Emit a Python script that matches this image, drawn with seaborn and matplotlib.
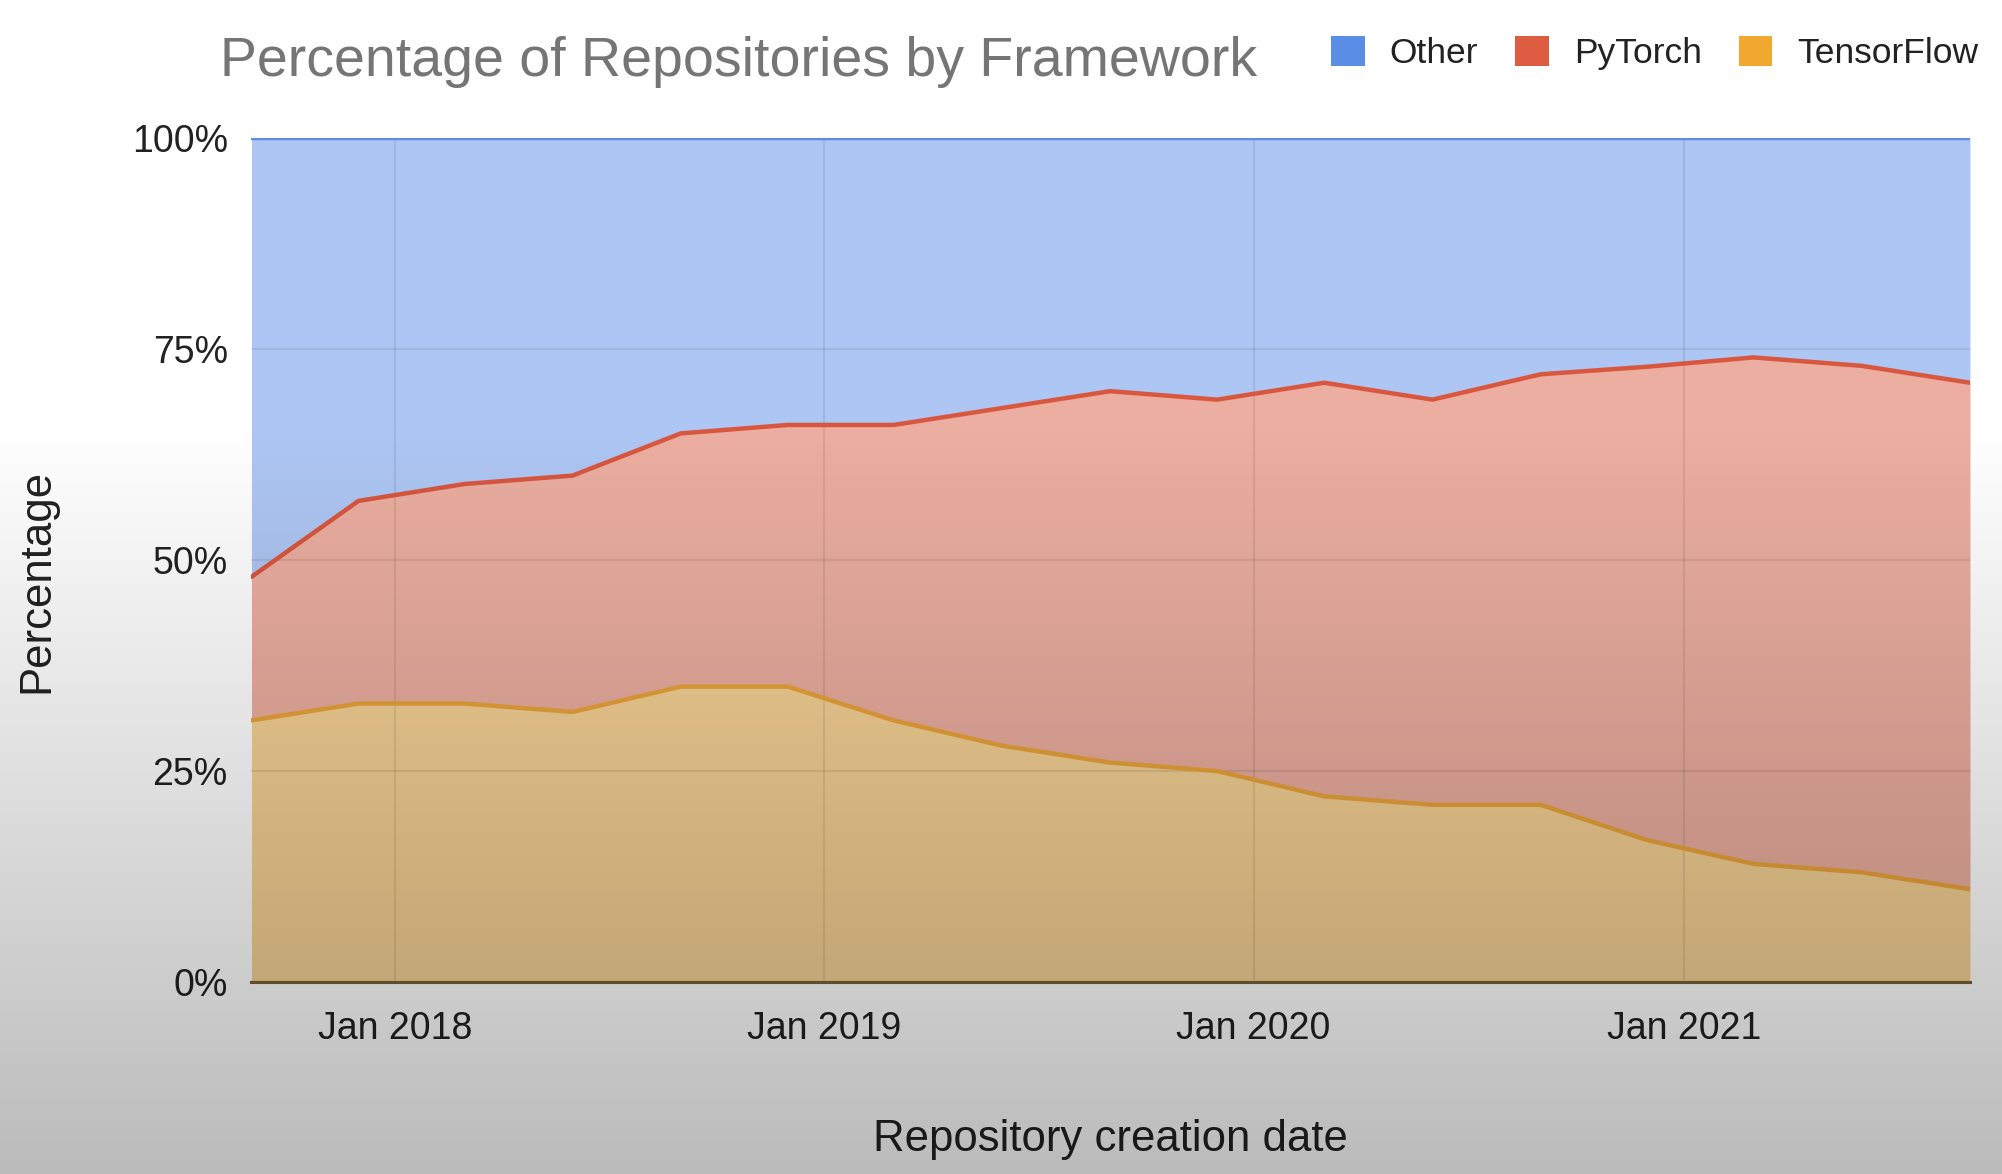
import numpy as np
import pandas as pd
import seaborn as sns
import matplotlib.pyplot as plt
import matplotlib.dates as mdates
from matplotlib.patches import Patch
from matplotlib.ticker import PercentFormatter

# quarterly share of repositories (%)
dates = ['2017-09-01', '2017-12-01', '2018-03-01', '2018-06-01', '2018-09-01',
         '2018-12-01', '2019-03-01', '2019-06-01', '2019-09-01', '2019-12-01',
         '2020-03-01', '2020-06-01', '2020-09-01', '2020-12-01', '2021-03-01',
         '2021-06-01', '2021-09-01']
tensorflow = [31, 33, 33, 32, 35, 35, 31, 28, 26, 25, 22, 21, 21, 16.8, 14, 13, 11]
pytorch = [17, 24, 26, 28, 30, 31, 35, 40, 44, 44, 49, 48, 51, 56.1, 60, 60, 60]
other = [52, 43, 41, 40, 35, 34, 34, 32, 30, 31, 29, 31, 28, 27.1, 26, 27, 29]

frameworks = ['Other', 'PyTorch', 'TensorFlow']
line_colours = {'Other': '#5b8ee6', 'PyTorch': '#d9573f', 'TensorFlow': '#eba43a'}
fill_colours = {'Other': '#aec6f3', 'PyTorch': '#ebaea0', 'TensorFlow': '#f5d194'}
legend_colours = {'Other': '#5a8de6', 'PyTorch': '#dd5c42', 'TensorFlow': '#f0a830'}

sns.set_theme(style='white')
plt.rcParams['font.family'] = ['Liberation Sans', 'DejaVu Sans']

x = pd.to_datetime(dates)
tf_top = np.array(tensorflow)
pt_top = tf_top + np.array(pytorch)
ot_top = pt_top + np.array(other)

data = pd.DataFrame({
    'date': list(x) * 3,
    'value': list(ot_top) + list(pt_top) + list(tf_top),
    'framework': ['Other'] * len(x) + ['PyTorch'] * len(x) + ['TensorFlow'] * len(x),
})

fig = plt.figure(figsize=(20.02, 11.74), dpi=100)
fig.patch.set_facecolor('white')
ax = fig.add_axes([0.1256, 0.1635, 0.8584, 0.719])

# stacked fills
ax.fill_between(x, 0, tf_top, color=fill_colours['TensorFlow'], lw=0, zorder=1)
ax.fill_between(x, tf_top, pt_top, color=fill_colours['PyTorch'], lw=0, zorder=1)
ax.fill_between(x, pt_top, ot_top, color=fill_colours['Other'], lw=0, zorder=1)

sns.lineplot(data=data, x='date', y='value', hue='framework', palette=line_colours,
             hue_order=frameworks, linewidth=3.2, ax=ax, legend=False, zorder=3)

ax.set_xlim(x[0], x[-1])
ax.set_ylim(0, 100)
ax.set_yticks([0, 25, 50, 75, 100])
ax.yaxis.set_major_formatter(PercentFormatter(decimals=0))
ax.xaxis.set_major_locator(mdates.YearLocator())
ax.xaxis.set_major_formatter(mdates.DateFormatter('%b %Y'))
ax.set_axisbelow(False)
ax.grid(True, color='black', alpha=0.08, linewidth=1.6, zorder=2)

for s in ['top', 'right', 'left']:
    ax.spines[s].set_visible(False)
ax.spines['bottom'].set_color('#7a6038')
ax.spines['bottom'].set_linewidth(2.2)
ax.spines['bottom'].set_zorder(4)

ax.tick_params(axis='both', length=0, labelsize=27, labelcolor='#222222')
ax.tick_params(axis='x', pad=21)
ax.tick_params(axis='y', pad=17)

ax.set_xlabel('Repository creation date', fontsize=31.5, color='#222222')
ax.xaxis.set_label_coords(0.5, -0.187)
ax.xaxis.label.set_va('center')
ax.set_ylabel('Percentage', fontsize=31.5, color='#222222')
ax.yaxis.set_label_coords(-0.125, 0.475)
ax.yaxis.label.set_va('center')

fig.text(0.11, 0.947, 'Percentage of Repositories by Framework', fontsize=40,
         color='#757575', ha='left', va='center')

handles = [Patch(facecolor=legend_colours[f], edgecolor='none', label=f) for f in frameworks]
fig.legend(handles=handles, loc='center right', bbox_to_anchor=(1.004, 0.955), ncol=3,
           frameon=False, fontsize=25.5, handlelength=0.95, handleheight=0.95,
           handletextpad=0.7, columnspacing=1.05, labelcolor='#222222')

# screen-capture style darkening toward the bottom
ov = fig.add_axes([0, 0, 1, 1], zorder=10)
ov.axis('off')
rows = np.linspace(0, 1174, 400)
alpha = np.clip((rows - 420) * 0.000358, 0, None)
grad = np.zeros((400, 1, 4))
grad[:, 0, 3] = alpha
ov.imshow(grad, aspect='auto', extent=[0, 1, 0, 1], interpolation='bilinear')

fig.savefig('out.png', dpi=100)
